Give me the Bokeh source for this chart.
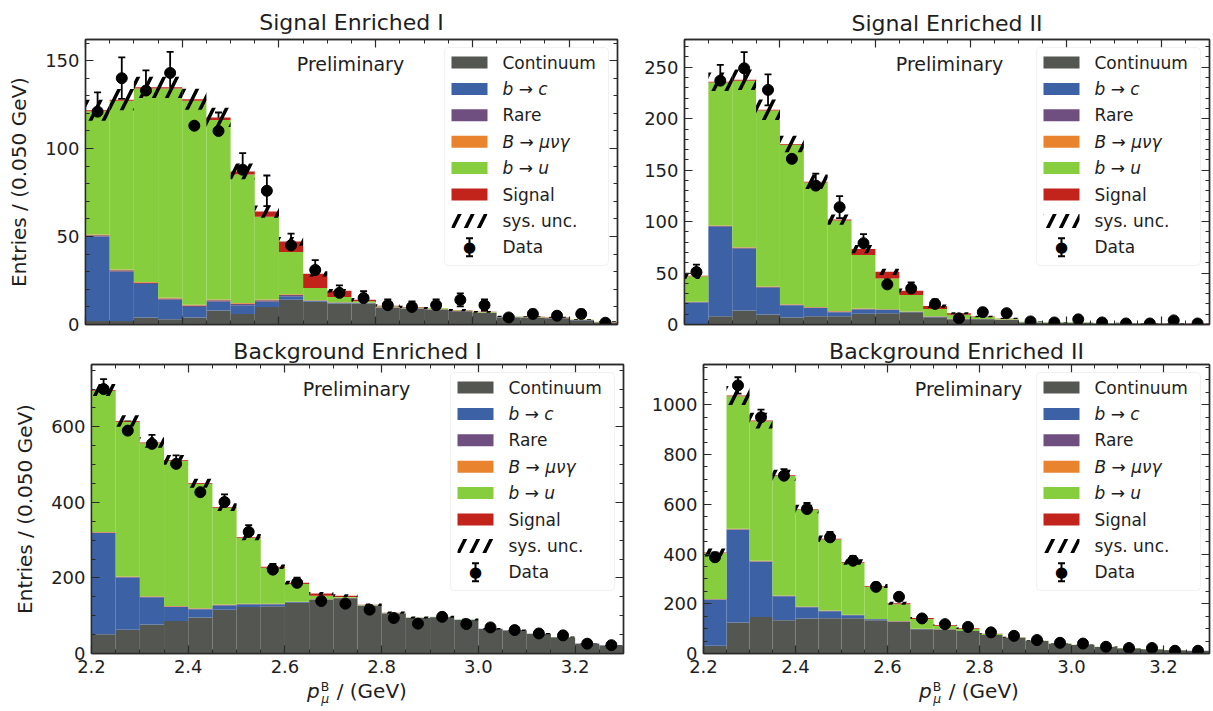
import numpy as np
from bokeh.plotting import figure
from bokeh.models import (ColumnDataSource, LinearAxis, SingleIntervalTicker, NumeralTickFormatter,
                          CustomJSTickFormatter, Label, BoxAnnotation, Whisker, TeeHead, Range1d, Div)
from bokeh.layouts import row, column
from bokeh.embed import file_html
from bokeh.resources import INLINE

FONT = "DejaVu Sans"
TXT = "#1e1e1e"

# ---------------- data ----------------
BIN_EDGES = [2.20, 2.25, 2.30, 2.35, 2.40, 2.45, 2.50, 2.55, 2.60, 2.65, 2.70, 2.75,
             2.80, 2.85, 2.90, 2.95, 3.00, 3.05, 3.10, 3.15, 3.20, 3.25, 3.30]
COMPONENTS = ["Continuum", "b → c", "Rare", "B → μνγ", "b → u", "Signal"]
COLORS = ["#545651", "#3c62a5", "#6e4f7f", "#e9832e", "#86ce3d", "#c2231b"]
ITALIC = [False, True, False, True, True, False]

# Signal Enriched I
se1_cont = [2, 2, 4, 3, 4, 8, 6, 10, 14, 13, 12, 12, 9.5, 9, 8.5, 7.5, 6.5, 4, 3.8, 3.5, 2.4, 1.1]
se1_bc = [48, 28, 19, 11, 6, 5, 5, 3, 2, 0.3, 0.2, 0.1, 0.1, 0.1, 0.1, 0.1, 0.1, 0.1, 0.1, 0.1, 0.1, 0.1]
se1_rare = [0.8, 0.8, 0.8, 0.8, 0.8, 0.8, 0.8, 0.8, 0.8, 0.3, 0.3, 0.2, 0.2, 0.1, 0.1, 0.1, 0.1, 0.1, 0.1, 0.1, 0.1, 0.1]
se1_mng = [0.4, 0.4, 0.4, 0.4, 0.4, 0.4, 0.4, 0.4, 0.4, 0.2, 0.2, 0.1, 0.1, 0.1, 0.1, 0.1, 0.1, 0.1, 0.1, 0.1, 0.1, 0.1]
se1_bu = [70, 96, 110, 119, 116, 102, 73, 47, 24, 7, 3, 0.8, 0.5, 0.4, 0.4, 0.3, 0.3, 0.2, 0.2, 0.2, 0.1, 0.1]
se1_sig = [0.6, 0.6, 0.6, 0.6, 0.8, 1.5, 1.8, 3, 6, 8, 3.5, 0.8, 0.3, 0.2, 0.1, 0.1, 0.1, 0.1, 0.1, 0.1, 0.1, 0.1]
se1_sys = [6, 6, 6, 6, 6, 5.5, 4.5, 3.5, 2.5, 1.5, 1, 1, 0.8, 0.7, 0.7, 0.6, 0.5, 0.4, 0.3, 0.3, 0.2, 0.2]
se1_data = [121, 140, 133, 143, 113, 110, 88, 76, 45, 31, 18, 15, 11, 10, 11, 14, 11, 4, 6, 5, 6, 1]
se1_err = [11, 11.8, 11.5, 12, 10.6, 10.5, 9.4, 8.7, 6.7, 5.6, 4.2, 3.9, 3.3, 3.2, 3.3, 3.7, 3.3, 2, 2.4, 2.2, 2.4, 1]

# Signal Enriched II
se2_cont = [0.5, 8, 13.7, 9.6, 6.7, 8, 8, 10.5, 11, 12, 7, 5, 5, 4.5, 2, 1.5, 1.5, 1, 1, 0.8, 0.8, 0.5]
se2_bc = [21, 87, 60, 26, 12, 8, 4, 4, 3, 0.2, 0.5, 0.2, 0.2, 0.1, 0.1, 0.1, 0.1, 0.1, 0.1, 0.1, 0.1, 0.1]
se2_rare = [0.3, 0.8, 0.8, 0.8, 0.6, 0.6, 0.6, 0.6, 0.5, 0.3, 0.3, 0.2, 0.1, 0.1, 0.1, 0.1, 0.1, 0.1, 0.1, 0.1, 0.1, 0.1]
se2_mng = [0.2, 0.5, 0.5, 0.5, 0.4, 0.4, 0.4, 0.4, 0.3, 0.2, 0.2, 0.1, 0.1, 0.1, 0.1, 0.1, 0.1, 0.1, 0.1, 0.1, 0.1, 0.1]
se2_bu = [25, 139, 162, 171, 155, 121, 88, 52, 30, 16, 7, 4, 1.8, 0.8, 0.3, 0.3, 0.3, 0.1, 0.1, 0.1, 0.1, 0.05]
se2_sig = [0.3, 0.6, 0.8, 0.8, 0.8, 0.8, 1, 5.8, 6.4, 4.2, 2.9, 1.4, 0.6, 0.3, 0.1, 0.1, 0.1, 0.05, 0.05, 0.05, 0.05, 0.05]
se2_sys = [3, 9, 10, 10, 8, 7, 5, 4, 3, 2, 1.5, 1, 0.8, 0.6, 0.3, 0.3, 0.3, 0.2, 0.2, 0.2, 0.2, 0.1]
se2_data = [51, 237, 249, 228, 161, 135, 114, 79, 39, 35, 20, 6, 12, 11, 3, 2, 5, 2, 1, 1, 4, 1]
se2_err = [7.1, 15.4, 15.8, 15.1, 12.7, 11.6, 10.7, 8.9, 6.2, 5.9, 4.5, 2.4, 3.5, 3.3, 1.7, 1.4, 2.2, 1.4, 1, 1, 2, 1]

# Background Enriched I
be1_cont = [51, 63, 77, 86, 95, 116, 123, 125, 134, 142, 146, 126, 106, 94, 96, 89, 65, 61, 52, 43, 26, 21.5]
be1_bc = [268, 138, 72, 37, 22, 11, 7, 5, 1.5, 0.8, 0.5, 0.5, 0.3, 0.3, 0.3, 0.2, 0.2, 0.2, 0.1, 0.1, 0.1, 0.1]
be1_rare = [1.5, 1.5, 1.5, 1.5, 1.5, 1.5, 1.2, 1.2, 1, 0.8, 0.5, 0.4, 0.3, 0.2, 0.2, 0.2, 0.1, 0.1, 0.1, 0.1, 0.1, 0.1]
be1_mng = [1, 1, 1, 1, 1, 1, 0.8, 0.8, 0.6, 0.5, 0.3, 0.2, 0.2, 0.1, 0.1, 0.1, 0.1, 0.1, 0.1, 0.1, 0.1, 0.1]
be1_bu = [374, 410, 405, 385, 329, 256, 174, 95, 47, 9, 2.5, 1, 0.6, 0.5, 0.4, 0.3, 0.3, 0.2, 0.2, 0.1, 0.1, 0.1]
be1_sig = [2, 2, 2, 2, 2, 2, 2, 2.5, 3.5, 6, 3, 1, 0.5, 0.3, 0.2, 0.2, 0.1, 0.1, 0.1, 0.1, 0.1, 0.1]
be1_sys = [16, 15, 14, 13, 12, 10, 8, 6, 5, 4, 4, 3.5, 3, 2.5, 2.5, 2.5, 2, 2, 1.5, 1.2, 0.8, 0.6]
be1_data = [700, 590, 555, 502, 427, 401, 322, 222, 187, 139, 132, 116, 94, 79, 97, 78, 69, 62, 53, 48, 26, 22]
be1_err = [26.5, 24.3, 23.6, 22.4, 20.7, 20, 17.9, 14.9, 13.7, 11.8, 11.5, 10.8, 9.7, 8.9, 9.8, 8.8, 8.3, 7.9, 7.3, 6.9, 5.1, 4.7]

# Background Enriched II
be2_cont = [31, 125, 147, 134, 141, 142, 142, 134, 128, 98, 97, 90, 74, 62, 50, 39, 34, 26, 21, 17, 13, 10.5]
be2_bc = [186, 373, 222, 96, 45, 28, 12, 3.5, 1, 0.5, 0.5, 0.3, 0.3, 0.2, 0.2, 0.1, 0.1, 0.1, 0.1, 0.1, 0.1, 0.1]
be2_rare = [1.5, 2, 2, 2, 1.5, 1.5, 1.2, 1, 0.8, 0.5, 0.4, 0.3, 0.2, 0.2, 0.1, 0.1, 0.1, 0.1, 0.1, 0.1, 0.1, 0.1]
be2_mng = [1, 1.5, 1.5, 1.5, 1, 1, 0.8, 0.6, 0.5, 0.3, 0.3, 0.2, 0.1, 0.1, 0.1, 0.1, 0.1, 0.1, 0.1, 0.1, 0.1, 0.1]
be2_bu = [185, 533, 561, 480, 390, 286, 209, 129, 68, 39, 13, 7.5, 3.5, 2, 1, 0.8, 0.6, 0.5, 0.4, 0.3, 0.3, 0.2]
be2_sig = [1.5, 3, 3, 3, 2.5, 2.5, 2.5, 3, 4, 4, 3, 3, 1, 0.5, 0.3, 0.2, 0.2, 0.1, 0.1, 0.1, 0.1, 0.1]
be2_sys = [16, 38, 32, 22, 17, 13, 11, 8, 6, 4, 3.5, 3, 2.5, 2, 1.5, 1.2, 1, 0.8, 0.6, 0.5, 0.4, 0.3]
be2_data = [387, 1078, 950, 715, 581, 467, 373, 268, 228, 141, 118, 107, 85, 71, 54, 43, 40, 27, 22, 22, 11, 11]
be2_err = [19.7, 32.8, 30.8, 26.7, 24.1, 21.6, 19.3, 16.4, 15.1, 11.9, 10.9, 10.3, 9.2, 8.4, 7.3, 6.6, 6.3, 5.2, 4.7, 4.7, 3.3, 3.3]

TITLES = ["Signal Enriched I", "Signal Enriched II", "Background Enriched I", "Background Enriched II"]
Y_MAX = [162, 277, 765, 1162]
Y_TICK = [50, 50, 200, 200]
Y_MINOR = [5, 5, 4, 4]
Y_LABEL = "Entries / (0.050 GeV)"
X_LABEL_HTML = ("<i>p</i><span style=\"display:inline-block;vertical-align:-0.42em;line-height:0.95;"
                "font-size:0.62em;margin:0 1px\"><span style=\"display:block\">B</span>"
                "<span style=\"display:block;font-style:italic\">μ</span></span> / (GeV)")

HATCH = dict(hatch_pattern="/", hatch_color="black", hatch_weight=3.5, hatch_scale=26)


def style_axis(ax, blank=False):
    ax.axis_line_color = "#2a2a2a"
    ax.axis_line_width = 1.4
    ax.major_tick_line_color = "#2a2a2a"
    ax.minor_tick_line_color = "#2a2a2a"
    ax.major_tick_line_width = 1.2
    ax.minor_tick_line_width = 1.0
    ax.major_tick_in = 8
    ax.major_tick_out = 0
    ax.minor_tick_in = 4
    ax.minor_tick_out = 0
    ax.major_label_text_font = FONT
    ax.major_label_text_color = TXT
    if blank:
        ax.formatter = CustomJSTickFormatter(code="return ''")
        ax.major_label_text_font_size = "1px"
        ax.major_label_standoff = 0
    else:
        ax.major_label_text_font_size = "18px"
        ax.major_label_standoff = 6


def make_panel(idx, comps, sys, data, err, geom, title_standoff, show_x, show_y):
    ml, fw, mr, mt, fh, mb = geom
    p = figure(frame_width=fw, frame_height=fh, min_border_left=ml, min_border_right=mr,
               min_border_top=mt, min_border_bottom=mb,
               x_range=Range1d(BIN_EDGES[0], BIN_EDGES[-1]), y_range=Range1d(0, Y_MAX[idx]),
               x_axis_type=None, y_axis_type=None, title=TITLES[idx],
               output_backend="svg", toolbar_location=None)
    p.title.align = "center"
    p.title.text_font = FONT
    p.title.text_font_size = "22px"
    p.title.text_font_style = "normal"
    p.title.text_color = TXT
    p.title.standoff = title_standoff
    p.outline_line_color = "#2a2a2a"
    p.outline_line_width = 1.4
    p.background_fill_color = "white"
    p.border_fill_color = "white"

    xt = SingleIntervalTicker(interval=0.2, num_minor_ticks=4)
    yt = SingleIntervalTicker(interval=Y_TICK[idx], num_minor_ticks=Y_MINOR[idx])

    bx = LinearAxis(ticker=xt)
    style_axis(bx, blank=not show_x)
    if show_x:
        bx.formatter = NumeralTickFormatter(format="0.0")
    p.add_layout(bx, "below")
    tx = LinearAxis(ticker=xt)
    style_axis(tx, blank=True)
    p.add_layout(tx, "above")
    ly = LinearAxis(ticker=yt, formatter=NumeralTickFormatter(format="0"))
    style_axis(ly)
    if show_y:
        ly.axis_label = Y_LABEL
        ly.axis_label_text_font = FONT
        ly.axis_label_text_font_size = "20px"
        ly.axis_label_text_font_style = "normal"
        ly.axis_label_text_color = TXT
        ly.axis_label_standoff = 11
    p.add_layout(ly, "left")
    ry = LinearAxis(ticker=yt)
    style_axis(ry, blank=True)
    p.add_layout(ry, "right")

    left = np.array(BIN_EDGES[:-1])
    right = np.array(BIN_EDGES[1:])
    bottom = np.zeros(len(left))
    for comp, color in zip(comps, COLORS):
        vals = np.array(comp, dtype=float)
        src = ColumnDataSource(dict(left=left, right=right, bottom=bottom.copy(), top=bottom + vals))
        p.quad(left="left", right="right", bottom="bottom", top="top", source=src,
               fill_color=color, line_color=None)
        bottom = bottom + vals
    total = bottom
    s = np.array(sys, dtype=float)
    hsrc = ColumnDataSource(dict(left=left, right=right, bottom=total - s, top=total + s))
    p.quad(left="left", right="right", bottom="bottom", top="top", source=hsrc,
           fill_alpha=0, line_color=None, **HATCH)

    centers = (left + right) / 2
    d = np.array(data, dtype=float)
    e = np.array(err, dtype=float)
    dsrc = ColumnDataSource(dict(x=centers, y=d, lo=d - e, up=d + e))
    p.add_layout(Whisker(source=dsrc, base="x", upper="up", lower="lo", line_color="black",
                         line_width=1.8,
                         upper_head=TeeHead(size=7, line_width=1.8, line_color="black"),
                         lower_head=TeeHead(size=7, line_width=1.8, line_color="black")))
    p.scatter("x", "y", source=dsrc, size=11, fill_color="black", line_color="black")

    # Preliminary
    p.add_layout(Label(x=265, y=fh - 24, x_units="screen", y_units="screen", text="Preliminary",
                       text_font=FONT, text_font_size="19px", text_color=TXT,
                       text_align="center", text_baseline="middle"))

    # legend
    bright = fw - 9
    bleft = bright - 164
    btop = fh - 8
    bbot = btop - 218
    p.add_layout(BoxAnnotation(left=bleft, right=bright, top=btop, bottom=bbot,
                               left_units="screen", right_units="screen",
                               top_units="screen", bottom_units="screen",
                               fill_color="white", fill_alpha=0.85, line_color="#d0d0d0",
                               line_width=1, border_radius=4))
    names = COMPONENTS + ["sys. unc.", "Data"]
    for i, name in enumerate(names):
        yc = btop - 15 - 26.4 * i
        px0, px1 = bleft + 7, bleft + 43
        if i < len(COMPONENTS):
            p.add_layout(BoxAnnotation(left=px0, right=px1, top=yc + 6, bottom=yc - 6,
                                       left_units="screen", right_units="screen",
                                       top_units="screen", bottom_units="screen",
                                       fill_color=COLORS[i], fill_alpha=1, line_color=None))
        elif name == "sys. unc.":
            p.add_layout(BoxAnnotation(left=px0, right=px1, top=yc + 7, bottom=yc - 7,
                                       left_units="screen", right_units="screen",
                                       top_units="screen", bottom_units="screen",
                                       fill_color=None, fill_alpha=0, line_color=None, **HATCH))
        else:
            cx = (px0 + px1) / 2
            p.add_layout(BoxAnnotation(left=cx - 1, right=cx + 1, top=yc + 9, bottom=yc - 9,
                                       left_units="screen", right_units="screen",
                                       top_units="screen", bottom_units="screen",
                                       fill_color="black", fill_alpha=1, line_color=None))
            for cy in (yc + 9, yc - 9):
                p.add_layout(BoxAnnotation(left=cx - 3.5, right=cx + 3.5, top=cy + 1, bottom=cy - 1,
                                           left_units="screen", right_units="screen",
                                           top_units="screen", bottom_units="screen",
                                           fill_color="black", fill_alpha=1, line_color=None))
            p.add_layout(Label(x=cx, y=yc, x_units="screen", y_units="screen", text="●",
                               text_font=FONT, text_font_size="15px", text_color="black",
                               text_align="center", text_baseline="middle"))
        italic = ITALIC[i] if i < len(COMPONENTS) else False
        p.add_layout(Label(x=bleft + 58, y=yc, x_units="screen", y_units="screen", text=name,
                           text_font=FONT, text_font_size="17px", text_color=TXT,
                           text_font_style="italic" if italic else "normal",
                           text_align="left", text_baseline="middle"))
    return p


def xlabel_div(width, center):
    pad = 2 * center - width
    html = ("<div style=\"font-family:'DejaVu Sans';font-size:20px;line-height:20px;color:%s;"
            "text-align:center;margin-left:%dpx;width:%dpx;white-space:nowrap\">%s</div>"
            % (TXT, pad, width - pad, X_LABEL_HTML))
    return Div(text=html, width=width, height=30, margin=(0, 0, 0, 0))


# geometry: (min_border_left, frame_width, min_border_right, min_border_top, frame_height, min_border_bottom)
p1 = make_panel(0, [se1_cont, se1_bc, se1_rare, se1_mng, se1_bu, se1_sig], se1_sys, se1_data, se1_err,
                (85, 532, 4, 39, 285, 12), 9, False, True)
p2 = make_panel(1, [se2_cont, se2_bc, se2_rare, se2_mng, se2_bu, se2_sig], se2_sys, se2_data, se2_err,
                (63, 525, 4, 39, 285, 12), 7, False, False)
p3 = make_panel(2, [be1_cont, be1_bc, be1_rare, be1_mng, be1_bu, be1_sig], be1_sys, be1_data, be1_err,
                (91, 532, 4, 28, 289, 28), 1, True, True)
p4 = make_panel(3, [be2_cont, be2_bc, be2_rare, be2_mng, be2_bu, be2_sig], be2_sys, be2_data, be2_err,
                (76, 506, 4, 28, 289, 28), 1, True, False)

d1 = xlabel_div(627, 357)
d2 = xlabel_div(586, 342)

layout = column(row(p1, p2), row(p3, p4), row(d1, d2))
open("out.html", "w").write(file_html(layout, INLINE))
